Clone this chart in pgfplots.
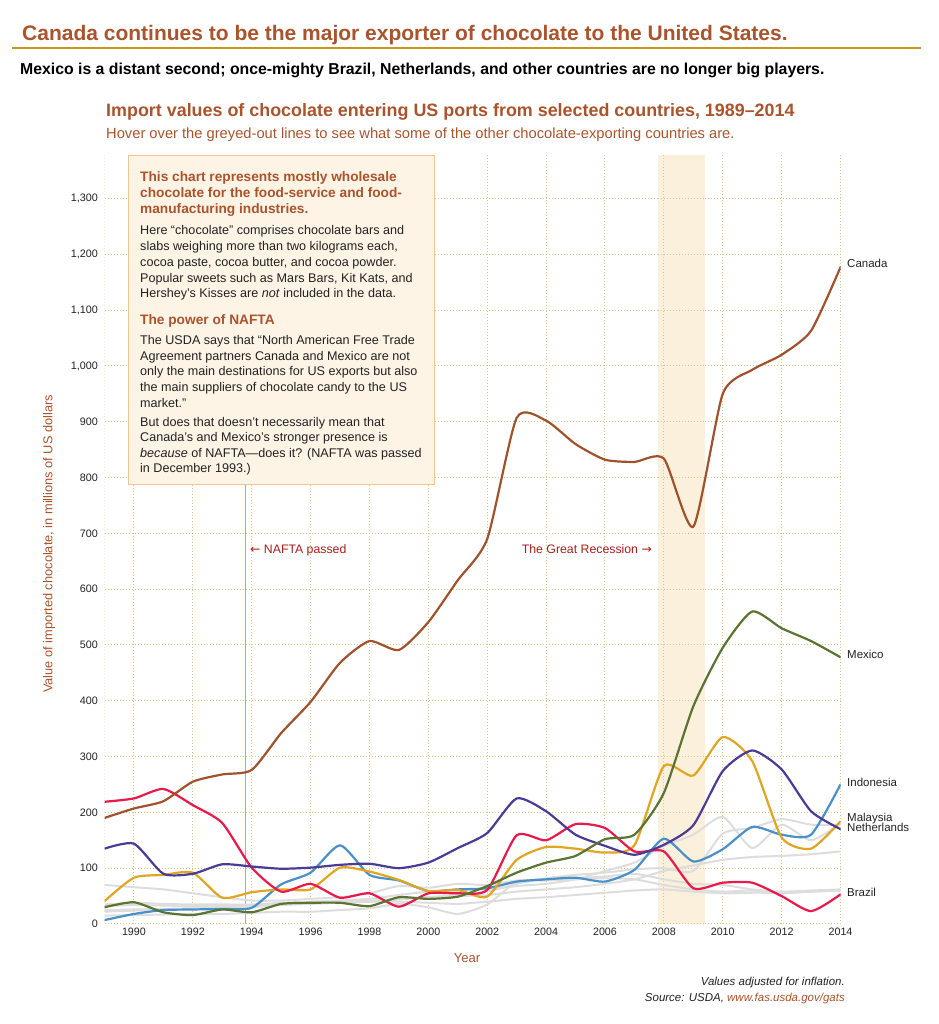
\documentclass[border=0pt]{standalone}
\usepackage{fontspec}
\setmainfont{Liberation Sans}
\newfontfamily\arrowfont{DejaVu Sans}
\usepackage{pgfplots}
\usepackage{pgfplotstable}
\pgfplotsset{compat=1.18}

\definecolor{titlec}{HTML}{A9542C}
\definecolor{rulec}{HTML}{C8961E}
\definecolor{canada}{HTML}{A0522D}
\definecolor{mexico}{HTML}{5A7432}
\definecolor{malaysia}{HTML}{E0A622}
\definecolor{netherlands}{HTML}{4B3B94}
\definecolor{indonesia}{HTML}{4A90C8}
\definecolor{brazil}{HTML}{E8194B}
\definecolor{others}{HTML}{DDDDDD}
\definecolor{gridc}{HTML}{D2CB8E}
\definecolor{boxfill}{HTML}{FDF4E6}
\definecolor{boxedge}{HTML}{F0C68F}
\definecolor{naftac}{HTML}{E89A62}
\definecolor{notec}{HTML}{A81C1C}
\definecolor{recess}{HTML}{FBF0DC}
\definecolor{textc}{HTML}{222222}

\tikzset{dotgrid/.style={gridc, line width=1pt, dash pattern=on 1pt off 2pt}}

% import values, millions of US dollars (inflation adjusted)
\pgfplotstableread{
year canada mexico malaysia netherlands indonesia brazil g1 g2 g3 g4 g5 g6
1989 190 30 41 135 7 219 70 35 32 25 15 22
1990 207 39 83 144 18 225 66 38 34 26 16 24
1991 220 21 88 90 25 242 62 36 33 27 17 26
1992 255 16 92 90 26 213 55 35 32 28 18 28
1993 268 26 47 107 27 181 48 35 32 28 18 30
1994 276 21 57 103 29 101 42 35 33 30 20 32
1995 342 36 62 99 71 58 42 38 36 34 22 36
1996 398 38 62 101 92 72 45 40 38 36 22 38
1997 468 38 101 106 141 47 48 42 40 38 25 38
1998 507 32 94 108 88 55 55 45 42 40 28 40
1999 491 48 79 100 78 31 68 52 45 44 36 40
2000 541 45 59 110 59 55 65 58 48 48 30 38
2001 616 49 61 136 62 55 72 60 52 50 18 36
2002 690 68 49 163 64 61 70 62 58 52 35 40
2003 907 92 115 225 76 159 78 68 72 58 75 45
2004 902 110 138 202 80 150 80 72 82 62 78 48
2005 860 122 135 160 83 179 82 80 88 66 80 52
2006 832 152 128 140 76 172 85 95 92 72 82 56
2007 828 160 141 124 97 130 90 110 98 80 80 60
2008 834 235 283 142 153 130 80 140 100 95 70 62
2009 712 390 266 177 112 64 72 160 95 105 62 58
2010 950 495 335 274 134 74 70 192 162 115 58 55
2011 993 560 292 311 174 74 62 136 172 120 60 56
2012 1020 530 155 277 160 50 58 178 188 122 55 56
2013 1063 507 135 202 160 23 60 150 178 125 58 58
2014 1177 478 184 170 250 53 62 180 178 130 60 60
}\imports

\begin{document}
\begin{tikzpicture}[x=1pt,y=1pt]
\useasboundingbox (0,0) rectangle (938,1024);

% headings
\node[anchor=base west, inner sep=0, text=titlec, font=\fontsize{21}{25}\selectfont\bfseries]
  at (22,983.5) {Canada continues to be the major exporter of chocolate to the United States.};
\draw[rulec, line width=2.6pt] (12,976) -- (921,976);
\node[anchor=base west, inner sep=0, text=black, font=\fontsize{15.8}{18}\selectfont\bfseries]
  at (20,949.5) {Mexico is a distant second; once-mighty Brazil, Netherlands, and other countries are no longer big players.};
\node[anchor=base west, inner sep=0, text=titlec, font=\fontsize{17.9}{21}\selectfont\bfseries]
  at (106,907.5) {Import values of chocolate entering US ports from selected countries, 1989–2014};
\node[anchor=base west, inner sep=0, text=titlec, font=\fontsize{14.7}{17}\selectfont]
  at (106,885) {Hover over the greyed-out lines to see what some of the other chocolate-exporting countries are.};

\begin{axis}[
  at={(104.5pt,100pt)}, anchor=south west,
  scale only axis, width=736pt, height=769pt,
  xmin=1989, xmax=2014, ymin=0, ymax=1378,
  axis line style={draw=none},
  tick style={draw=none},
  xtick={1990,1992,...,2014},
  ytick={0,100,...,1300},
  grid=major,
  major grid style={dotgrid},
  /pgf/number format/assume math mode=true,
  xticklabel style={font=\fontsize{10.7}{12}\selectfont, text=textc,
    /pgf/number format/1000 sep={}},
  yticklabel style={font=\fontsize{10.8}{12}\selectfont, text=textc, xshift=-3pt,
    /pgf/number format/1000 sep={,}},
  every axis plot/.append style={smooth, tension=0.38, line cap=round, line join=round},
]
% recession band, with the grid drawn again over it
\fill[recess] (axis cs:2007.8,0) rectangle (axis cs:2009.4,1378);
\pgfplotsinvokeforeach{0,100,...,1300}{
  \draw[dotgrid] (axis cs:2007.8,#1) -- (axis cs:2009.4,#1);
}
\draw[dotgrid] (axis cs:2008,0) -- (axis cs:2008,1378);
\draw[dotgrid] (axis cs:1989,0) -- (axis cs:1989,1378);
\draw[naftac, line width=1.3pt] (axis cs:1993.8,0) -- (axis cs:1993.8,800);

\addplot[others, line width=2pt] table[x=year, y=g1] {\imports};
\addplot[others, line width=2pt] table[x=year, y=g2] {\imports};
\addplot[others, line width=2pt] table[x=year, y=g3] {\imports};
\addplot[others, line width=2pt] table[x=year, y=g4] {\imports};
\addplot[others, line width=2pt] table[x=year, y=g5] {\imports};
\addplot[others, line width=2pt] table[x=year, y=g6] {\imports};

\addplot[indonesia, line width=2.2pt] table[x=year, y=indonesia] {\imports};
\addplot[malaysia, line width=2.2pt] table[x=year, y=malaysia] {\imports};
\addplot[brazil, line width=2.2pt] table[x=year, y=brazil] {\imports};
\addplot[netherlands, line width=2.2pt] table[x=year, y=netherlands] {\imports};
\addplot[mexico, line width=2.2pt] table[x=year, y=mexico] {\imports};
\addplot[canada, line width=2.2pt] table[x=year, y=canada] {\imports};
\end{axis}

% axis titles
\node[rotate=90, text=titlec, font=\fontsize{12.8}{15}\selectfont] at (49,480)
  {Value of imported chocolate, in millions of US dollars};
\node[text=titlec, font=\fontsize{13}{15}\selectfont] at (467,66) {Year};

% series labels
\begin{scope}[every node/.style={anchor=base west, inner sep=0, text=textc, font=\fontsize{11.5}{13}\selectfont}]
\node at (847,756) {Canada};
\node at (847,365) {Mexico};
\node at (847,237.2) {Indonesia};
\node at (847,202) {Malaysia};
\node at (847,192) {Netherlands};
\node at (847,127.2) {Brazil};
\end{scope}

% event notes
\node[anchor=base west, inner sep=0, text=notec, font=\fontsize{12.3}{14}\selectfont]
  at (250,470) {{\arrowfont ←} NAFTA passed};
\node[anchor=base east, inner sep=0, text=notec, font=\fontsize{12.3}{14}\selectfont]
  at (652,470) {The Great Recession {\arrowfont →}};

% note box
\draw[fill=boxfill, draw=boxedge, line width=1pt] (128,868) rectangle (434,539);
\begin{scope}[every node/.style={anchor=base west, inner sep=0, text=textc, font=\fontsize{12.6}{15}\selectfont}]
\node[text=titlec, font=\fontsize{13.7}{16}\selectfont\bfseries] at (140,842.8) {This chart represents mostly wholesale};
\node[text=titlec, font=\fontsize{13.7}{16}\selectfont\bfseries] at (140,826.5) {chocolate for the food-service and food-};
\node[text=titlec, font=\fontsize{13.7}{16}\selectfont\bfseries] at (140,810.2) {manufacturing industries.};
\node at (140,789.5) {Here “chocolate” comprises chocolate bars and};
\node at (140,773.8) {slabs weighing more than two kilograms each,};
\node at (140,757.8) {cocoa paste, cocoa butter, and cocoa powder.};
\node at (140,741.8) {Popular sweets such as Mars Bars, Kit Kats, and};
\node at (140,726.2) {Hershey's Kisses are \textit{not} included in the data.};
\node[text=titlec, font=\fontsize{13.7}{16}\selectfont\bfseries] at (140,699) {The power of NAFTA};
\node at (140,679.5) {The USDA says that “North American Free Trade};
\node at (140,663.8) {Agreement partners Canada and Mexico are not};
\node at (140,648.5) {only the main destinations for US exports but also};
\node at (140,632.2) {the main suppliers of chocolate candy to the US};
\node at (140,616.8) {market.”};
\node at (140,597.8) {But does that doesn't necessarily mean that};
\node at (140,582.2) {Canada's and Mexico's stronger presence is};
\node at (140,566.2) {\textit{because} of NAFTA—does it? (NAFTA was passed};
\node at (140,551.2) {in December 1993.)};
\end{scope}

% footer
\node[anchor=base east, inner sep=0, text=textc, font=\fontsize{11.5}{13}\selectfont\itshape]
  at (845,38.3) {Values adjusted for inflation.};
\node[anchor=base east, inner sep=0, text=textc, font=\fontsize{11.5}{13}\selectfont\itshape]
  at (845,22.7) {Source: USDA, \textcolor{titlec}{www.fas.usda.gov/gats}};
\end{tikzpicture}
\end{document}
